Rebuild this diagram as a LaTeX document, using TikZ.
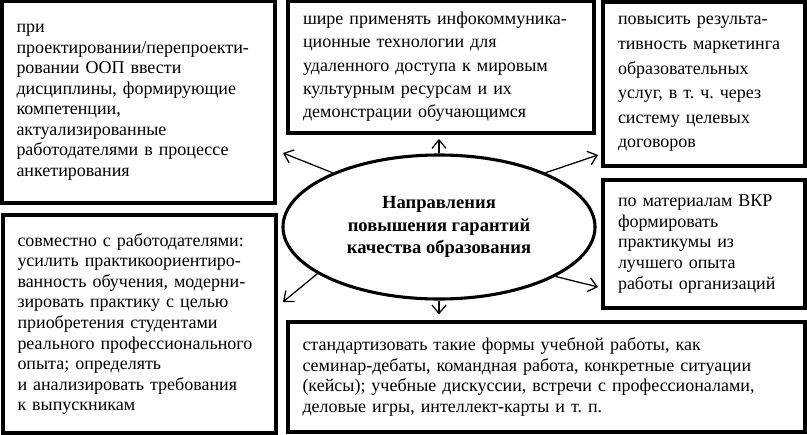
\documentclass[tikz,border=0pt]{standalone}
\usepackage{fontspec}
\setmainfont{Liberation Serif}
\usetikzlibrary{arrows.meta,shapes.geometric,calc}
\frenchspacing

\begin{document}
\begin{tikzpicture}[>={Straight Barb[length=6pt,width=10pt]},
  blk/.style={draw,line width=2.8pt,inner xsep=0pt,inner ysep=0pt,align=left,
    font=\fontsize{12.8}{14.6}\selectfont},
  arr/.style={->,line width=0.9pt}]
\useasboundingbox (0,0) rectangle (20.175,-10.85);
% central ellipse
\node[ellipse,draw,line width=2.2pt,minimum width=7.8cm,minimum height=3.6cm,align=center,
  font=\bfseries\fontsize{13.2}{16}\selectfont] (ell) at (10.975,-5.675)
  {Направления\\повышения гарантий\\качества образования};
% boxes round it
\node[blk,minimum width=6.825cm,minimum height=5.05cm,text width=6.1cm] (b1) at (3.4625,-2.55)
  {при\\проектировании/перепроекти-\\ровании ООП ввести\\дисциплины, формирующие\\компетенции,\\актуализированные\\работодателями в процессе\\анкетирования};
\node[blk,minimum width=7.65cm,minimum height=3.3cm,text width=6.9cm,
  font=\fontsize{12.8}{16.6}\selectfont] (b2) at (11.025,-1.675)
  {шире применять инфокоммуника-\\ционные технологии для\\удаленного доступа к мировым\\культурным ресурсам и их\\демонстрации обучающимся};
\node[blk,minimum width=5.05cm,minimum height=4.1cm,text width=4.3cm,
  font=\fontsize{12.8}{17.5}\selectfont] (b3) at (17.6,-2.1)
  {повысить результа-\\тивность маркетинга\\образовательных\\услуг, в т.~ч. через\\систему целевых\\договоров};
\node[blk,minimum width=6.825cm,minimum height=5.45cm,text width=6.1cm] (b4) at (3.4875,-8.1)
  {совместно с работодателями:\\усилить практикоориентиро-\\ванность обучения, модерни-\\зировать практику с целью\\приобретения студентами\\реального профессионального\\опыта; определять\\и анализировать требования\\к выпускникам};
\node[blk,minimum width=5.05cm,minimum height=3.2cm,text width=4.3cm] (b5) at (17.6,-6.1)
  {по материалам ВКР\\формировать\\практикумы из\\лучшего опыта\\работы организаций};
\node[blk,minimum width=12.925cm,minimum height=2.75cm,text width=12.2cm] (b6) at (13.6625,-9.425)
  {стандартизовать такие формы учебной работы, как\\семинар-дебаты, командная работа, конкретные ситуации\\(кейсы); учебные дискуссии, встречи с профессионалами,\\деловые игры, интеллект-карты и т.~п.};
% free ends of the slanted arrows
\coordinate (t1) at (7.075,-3.825);
\coordinate (t3) at (14.95,-3.875);
\coordinate (t4) at (7.075,-7.55);
\coordinate (t5) at (14.95,-7.175);
% arrows
\draw[arr] (ell.north) -- ($(ell.north |- b2.south)+(0,-0.1)$);
\draw[arr] (ell.153) -- (t1);
\draw[arr] (ell.27) -- (t3);
\draw[arr] (ell.201.6) -- (t4);
\draw[arr] (ell.337) -- (t5);
\draw[arr] (ell.south) -- ($(ell.south |- b6.north)+(0,0.14)$);
\end{tikzpicture}
\end{document}
